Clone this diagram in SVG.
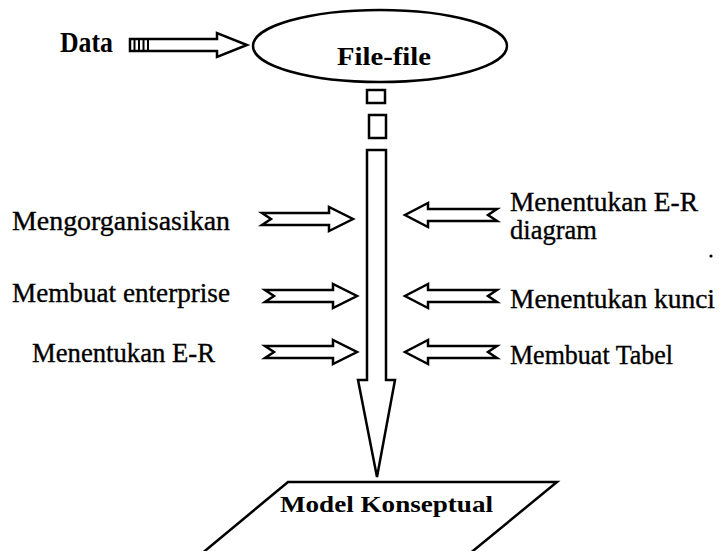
<svg xmlns="http://www.w3.org/2000/svg" width="719" height="551" viewBox="0 0 719 551">
  <style>
    .shape { fill: #fff; stroke: #000; stroke-width: 2.5; stroke-linejoin: miter; }
    .line { fill: none; stroke: #000; stroke-width: 2; }
    text { font-family: "Liberation Serif", "DejaVu Serif", "Times New Roman", serif; fill: #000; }
    .lbl { font-size: 27px; stroke: #000; stroke-width: 0.35; }
    .head { font-weight: bold; }
  </style>
  <rect x="0" y="0" width="719" height="551" fill="#fff"/>

  <!-- source label -->
  <g id="data">
    <text class="head" x="60" y="52" font-size="29" textLength="53" lengthAdjust="spacingAndGlyphs">Data</text>
  </g>

  <!-- file store -->
  <g id="file-file">
    <ellipse class="shape" cx="380" cy="46" rx="127" ry="36"/>
    <text class="head" x="337" y="65" font-size="26" textLength="94" lengthAdjust="spacingAndGlyphs">File-file</text>
  </g>

  <!-- result -->
  <g id="model-konseptual">
    <polygon class="shape" points="288,482 557,482 468,555 200,555"/>
    <text class="head" x="280" y="512" font-size="24" textLength="213" lengthAdjust="spacingAndGlyphs">Model Konseptual</text>
  </g>

  <!-- activities feeding the main flow -->
  <g id="left-labels">
    <text class="lbl" x="12" y="230" textLength="218" lengthAdjust="spacingAndGlyphs">Mengorganisasikan</text>
    <text class="lbl" x="12" y="302" textLength="218" lengthAdjust="spacingAndGlyphs">Membuat enterprise</text>
    <text class="lbl" x="32" y="362" textLength="183" lengthAdjust="spacingAndGlyphs">Menentukan E-R</text>
  </g>
  <g id="right-labels">
    <text class="lbl" x="510" y="211" textLength="188" lengthAdjust="spacingAndGlyphs">Menentukan E-R</text>
    <text class="lbl" x="510" y="239" textLength="87" lengthAdjust="spacingAndGlyphs">diagram</text>
    <text class="lbl" x="510" y="308" textLength="205" lengthAdjust="spacingAndGlyphs">Menentukan kunci</text>
    <text class="lbl" x="510" y="364" textLength="163" lengthAdjust="spacingAndGlyphs">Membuat Tabel</text>
    <circle cx="711" cy="256" r="1.6" fill="#000"/>
  </g>

  <g id="connectors">
    <!-- Data into File-file -->
    <polygon class="shape" points="130,39 217,39 217,33 247,45 217,57 217,51 130,51"/>
    <line class="line" x1="134.5" y1="39" x2="134.5" y2="51"/>
    <line class="line" x1="139" y1="39" x2="139" y2="51"/>
    <line class="line" x1="143.5" y1="39" x2="143.5" y2="51"/>
    <line class="line" x1="148" y1="39" x2="148" y2="51"/>

    <!-- dashed start of the main flow -->
    <rect class="shape" x="367" y="90" width="18" height="13"/>
    <rect class="shape" x="369" y="115" width="17" height="23"/>

    <!-- main flow down to the conceptual model -->
    <polygon class="shape" points="367,150 386,150 386,380 395,380 377,477 358,380 367,380"/>

    <!-- notched arrows from the left -->
    <polygon class="shape" points="262,213 329,213 329,207 353,219 329,231 329,225 262,225 271,219"/>
    <polygon class="shape" points="265,290 333,290 333,284 357,296 333,308 333,302 265,302 274,296"/>
    <polygon class="shape" points="265,346 333,346 333,340 357,352 333,364 333,358 265,358 274,352"/>

    <!-- notched arrows from the right -->
    <polygon class="shape" points="497,209 428,209 428,203 405,215 428,227 428,221 497,221 488,215"/>
    <polygon class="shape" points="497,290 428,290 428,284 405,296 428,308 428,302 497,302 488,296"/>
    <polygon class="shape" points="497,346 428,346 428,340 405,352 428,364 428,358 497,358 488,352"/>
  </g>
</svg>
